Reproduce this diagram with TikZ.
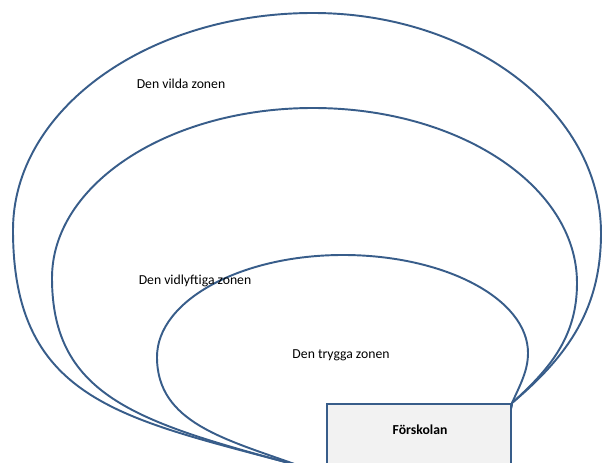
\documentclass[tikz,border=0pt]{standalone}
\usepackage{fontspec}
\setmainfont{Carlito}
\usepackage{tikz}
\definecolor{zoneblue}{RGB}{56,93,138}
\definecolor{boxgray}{RGB}{242,242,242}
\tikzstyle{zone} = [draw=zoneblue, line width=1.1pt]
\tikzstyle{school} = [rectangle, draw=zoneblue, line width=1.1pt, fill=boxgray, minimum width=3.68cm, minimum height=2cm, anchor=north east]
\tikzstyle{zonetext} = [font=\fontsize{7.8}{9}\selectfont, inner sep=0pt]
\tikzstyle{schooltext} = [font=\fontsize{7.8}{9}\selectfont\bfseries, inner sep=0pt]
\begin{document}
\begin{tikzpicture}[x=0.02cm, y=0.02cm]
               \useasboundingbox (0,0) rectangle (602,463);
               \clip (0,0) rectangle (602,463);
               \coordinate (corner) at (512,60);
               \coordinate (meet) at (300,-3);
               % den vilda zonen
               \draw [zone] (corner) .. controls (569,108) and (601,155) .. (601,230)
                    .. controls (601,351) and (472,450) .. (313,450)
                    .. controls (147,450) and (13,353) .. (13,233)
                    .. controls (13,60) and (126,44) .. (meet)
                    .. controls (400,-30) and (500,-20) .. (corner);
               % den vidlyftiga zonen
               \draw [zone] (corner) .. controls (551,95) and (577,127) .. (577,180)
                    .. controls (577,277) and (459,355) .. (313,355)
                    .. controls (169,355) and (52,279) .. (52,185)
                    .. controls (52,65) and (141,40) .. (meet)
                    .. controls (400,-30) and (500,-20) .. (corner);
               % den trygga zonen
               \draw [zone] (corner) .. controls (520,78) and (528,92) .. (528,110)
                    .. controls (528,164) and (445,208) .. (343,208)
                    .. controls (240,208) and (157,162) .. (157,106)
                    .. controls (157,40) and (225,24) .. (meet)
                    .. controls (400,-30) and (500,-20) .. (corner);
               \node [school] at (corner) (forskolan) {};
               \node [schooltext] at (420,33) (forskolantext) {Förskolan};
               \node [zonetext] at (181,379) (vild) {Den vilda zonen};
               \node [zonetext] at (195,182) (vidlyftig) {Den vidlyftiga zonen};
               \node [zonetext] at (341,108) (trygg) {Den trygga zonen};
               \end{tikzpicture}
\end{document}
